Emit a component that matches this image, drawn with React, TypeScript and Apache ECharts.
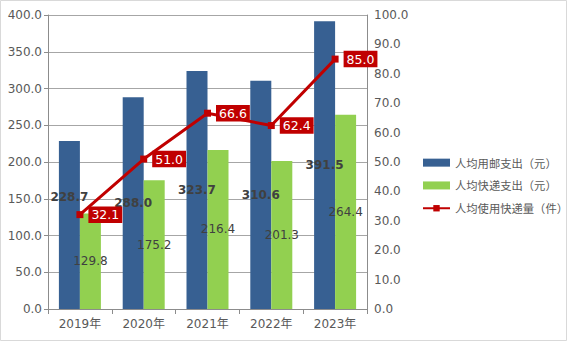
import React, { useEffect, useRef } from "react";
import * as echarts from "echarts";

const years = ["2019年", "2020年", "2021年", "2022年", "2023年"];
const postalSpend = [228.7, 288.0, 323.7, 310.6, 391.5];
const expressSpend = [129.8, 175.2, 216.4, 201.3, 264.4];
const expressCount = [32.1, 51.0, 66.6, 62.4, 85.0];
const seriesNames = ["人均用邮支出（元）", "人均快递支出（元）", "人均使用快递量（件）"];

const FONT = "DejaVu Sans, Noto Sans CJK SC, sans-serif";

export default function App() {
  const ref = useRef<HTMLDivElement>(null);
  useEffect(() => {
    if (!ref.current) return;
    const chart = echarts.init(ref.current, null, { renderer: "svg" });
    const axisText = { color: "#595959", fontSize: 12, fontFamily: FONT };
    chart.setOption({
      animation: false,
      backgroundColor: "#fff",
      textStyle: { fontFamily: FONT },
      graphic: [
        {
          type: "rect",
          shape: { x: 0.5, y: 0.5, width: 566, height: 340 },
          style: { fill: "none", stroke: "#D9D9D9", lineWidth: 1 },
          silent: true,
        },
      ],
      grid: { left: 48, right: 201, top: 15, bottom: 33 },
      legend: {
        orient: "vertical",
        left: 417,
        top: 152,
        itemWidth: 27,
        itemHeight: 8,
        itemGap: 11.5,
        textStyle: { color: "#595959", fontSize: 11.3, fontFamily: "Noto Sans CJK SC, sans-serif" },
        data: [
          { name: seriesNames[0], icon: "rect" },
          { name: seriesNames[1], icon: "rect" },
          { name: seriesNames[2] },
        ],
      },
      xAxis: {
        type: "category",
        data: years,
        axisLine: { lineStyle: { color: "#8C8C8C" } },
        axisTick: { show: true, length: 5, lineStyle: { color: "#8C8C8C" } },
        axisLabel: { ...axisText, margin: 9 },
      },
      yAxis: [
        {
          type: "value",
          min: 0,
          max: 400,
          interval: 50,
          axisLine: { show: true, lineStyle: { color: "#8C8C8C" } },
          axisTick: { show: true, length: 4, lineStyle: { color: "#8C8C8C" } },
          axisLabel: { ...axisText, margin: 6, formatter: (v: number) => v.toFixed(1) },
          splitLine: { show: true, lineStyle: { color: "#A6A6A6" } },
        },
        {
          type: "value",
          min: 0,
          max: 100,
          interval: 10,
          axisLine: { show: true, lineStyle: { color: "#8C8C8C" } },
          axisTick: { show: false },
          axisLabel: { ...axisText, margin: 7, formatter: (v: number) => v.toFixed(1) },
          splitLine: { show: false },
        },
      ],
      series: [
        {
          name: seriesNames[0],
          type: "bar",
          barWidth: 21,
          barGap: "0%",
          itemStyle: { color: "#376092" },
          label: {
            show: true,
            position: "inside",
            color: "#404040",
            fontWeight: "bold",
            fontSize: 12,
            fontFamily: FONT,
            formatter: (p: any) => Number(p.value).toFixed(1),
          },
          data: postalSpend.map((v, i) =>
            i === 0 ? { value: v, label: { offset: [0, -28] } } : v
          ),
        },
        {
          name: seriesNames[1],
          type: "bar",
          barWidth: 21,
          barGap: "0%",
          itemStyle: { color: "#92D050" },
          label: {
            show: true,
            position: "inside",
            color: "#404040",
            fontSize: 12,
            fontFamily: FONT,
            formatter: (p: any) => Number(p.value).toFixed(1),
          },
          data: expressSpend,
        },
        {
          name: seriesNames[2],
          type: "line",
          yAxisIndex: 1,
          symbol: "rect",
          symbolSize: 7,
          lineStyle: { color: "#C00000", width: 3 },
          itemStyle: { color: "#C00000" },
          label: {
            show: true,
            position: "right",
            distance: 5,
            color: "#fff",
            backgroundColor: "#C00000",
            padding: [2, 3, 2, 3],
            fontSize: 12.5,
            fontFamily: FONT,
            formatter: (p: any) => Number(p.value).toFixed(1),
          },
          data: expressCount,
          z: 5,
        },
      ],
    });
    return () => chart.dispose();
  }, []);
  return (
    <div
      ref={ref}
      style={{ position: "fixed", left: 0, top: 0, width: 568, height: 342 }}
    />
  );
}
